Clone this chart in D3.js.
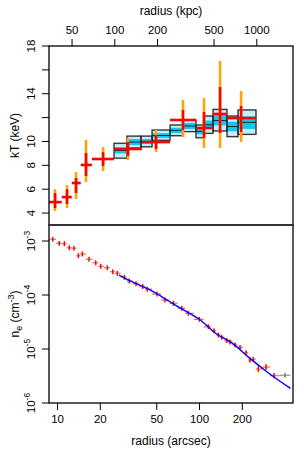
<!DOCTYPE html>
<html lang="en">
<head>
    <meta charset="UTF-8">
    <title>kT and n_e profiles</title>
    <script src="https://cdn.jsdelivr.net/npm/d3@7"></script>
    <style>
        body {margin: 0; background: #fff;}
        svg text {font-family: "Liberation Sans", Arial, sans-serif; fill: #000;}
    </style>
</head>
<body>
<div id="graf"></div>
<script>
    // projected temperature points (radius in arcsec, kT in keV)
    let ktR    = [9.68, 11.76, 13.61, 16.0, 21.1, 31.6, 49.8, 77.1, 108.4, 140.7, 197.8];
    let ktRlo  = [8.8, 10.8, 12.7, 14.7, 17.6, 25.2, 39.6, 62.5, 95.2, 125.5, 157.4];
    let ktRhi  = [10.8, 12.7, 14.7, 17.6, 25.2, 39.6, 62.5, 95.2, 125.5, 157.4, 251.9];
    let ktVal  = [4.92, 5.34, 6.52, 8.03, 8.53, 9.37, 9.95, 11.8, 11.13, 12.3, 11.96];
    let ktLo90 = [4.17, 4.42, 5.18, 6.6, 7.52, 8.44, 9.12, 10.37, 9.45, 9.45, 9.95];
    let ktHi90 = [6.01, 6.35, 7.44, 10.12, 9.53, 10.29, 10.96, 13.47, 13.64, 16.74, 14.23];
    let ktLo68 = [4.42, 4.76, 5.68, 7.1, 7.94, 8.78, 9.37, 10.96, 10.29, 10.71, 10.79];
    let ktHi68 = [5.68, 6.0, 6.94, 9.03, 9.1, 9.95, 10.54, 12.64, 12.47, 14.56, 12.97];

    // deprojected temperature shells (boxes)
    let shLo  = [25.2, 31.1, 39.0, 46.7, 62.5, 77.1, 95.2, 108.4, 125.5, 157.4, 188.2];
    let shHi  = [31.1, 39.0, 46.7, 62.5, 77.1, 95.2, 108.4, 125.5, 157.4, 188.2, 251.9];
    let shQ05 = [8.6, 9.45, 9.55, 10.1, 10.48, 10.82, 10.31, 10.68, 10.88, 10.4, 10.6];
    let shQ25 = [9.0, 9.7, 9.8, 10.3, 10.7, 11.05, 10.6, 11.05, 11.35, 10.85, 11.05];
    let shQ50 = [9.25, 9.95, 10.0, 10.5, 10.93, 11.3, 10.85, 11.4, 11.75, 11.25, 11.6];
    let shQ75 = [9.5, 10.2, 10.2, 10.7, 11.15, 11.55, 11.1, 11.75, 12.2, 11.65, 12.1];
    let shQ95 = [9.85, 10.45, 10.45, 10.96, 11.38, 11.8, 11.38, 12.13, 12.69, 12.13, 12.64];

    // electron density points
    let neR = [9.33, 10.38, 11.26, 12.21, 13.17, 14.13, 15.07, 16.80, 18.73, 20.31, 22.61, 24.68, 26.58,
        29.78, 32.28, 36.0, 40.13, 43.24, 50.6, 57.6, 65.9, 75.6, 84.1, 100.5, 116.3, 127.5, 136.8,
        144.5, 156.7, 165.3, 179.3, 194.4, 214.3, 228.6, 241.2, 261.6, 296.5, 337.4, 403.3];
    let neEdges = [8.86, 9.84, 10.81, 11.72, 12.69, 13.65, 14.59, 15.93, 17.76, 19.50, 21.42, 23.6, 25.6,
        28.1, 31.0, 34.1, 38.0, 41.7, 46.7, 54.0, 61.7, 70.6, 79.7, 91.9, 108.1, 121.9, 132.1, 140.6,
        150.5, 161.1, 172.2, 186.7, 204.2, 221.4, 235.0, 251.2, 278.6, 316.2, 369.0, 440.6];
    let neVal = [1.075e-3, 9.07e-4, 8.91e-4, 7.52e-4, 7.33e-4, 5.35e-4, 5.75e-4, 4.58e-4, 3.96e-4, 3.40e-4,
        3.20e-4, 2.70e-4, 2.52e-4, 2.13e-4, 1.82e-4, 1.62e-4, 1.43e-4, 1.28e-4, 1.04e-4, 8.08e-5, 7.02e-5,
        5.67e-5, 4.58e-5, 3.55e-5, 2.59e-5, 2.18e-5, 1.82e-5, 1.65e-5, 1.43e-5, 1.35e-5, 1.19e-5, 1.07e-5,
        8.53e-6, 6.25e-6, 6.44e-6, 4.27e-6, 4.64e-6, 3.21e-6, 3.26e-6];
    let neErrDex = [0.01, 0.01, 0.01, 0.01, 0.01, 0.012, 0.012, 0.012, 0.012, 0.012, 0.012, 0.012, 0.012,
        0.012, 0.012, 0.012, 0.015, 0.015, 0.015, 0.015, 0.015, 0.018, 0.018, 0.018, 0.02, 0.02, 0.022,
        0.025, 0.025, 0.025, 0.03, 0.03, 0.03, 0.04, 0.04, 0.07, 0.06, 0.05, 0.03];
    let neUsed = neR.map(function(d, i) { return i < neR.length - 1; });

    // density model curve
    let modelR  = [27.3, 32.7, 45.2, 62.4, 77.7, 100, 133, 170, 228.6, 300, 440];
    let modelNe = [2.34e-4, 1.82e-4, 1.24e-4, 7.5e-5, 5.3e-5, 3.6e-5, 1.9e-5, 1.3e-5, 6.7e-6, 3.8e-6, 1.87e-6];

    // axis ticks
    let arcsecTicks = [10, 20, 50, 100, 200];
    let kpcTicks = [50, 100, 200, 500, 1000];
    let kpcPerArcsec = 3.95;
    let ktTicks = [4, 6, 8, 10, 12, 14, 16, 18];
    let ktTickLabels = ["4", "6", "8", "10", "", "14", "", "18"];
    let neTicks = [1e-3, 1e-4, 1e-5, 1e-6];
    let neTickExp = ["-3", "-4", "-5", "-6"];

    let pLeft = 49, pRight = 293, pTop = 46, pMid = 225, pBottom = 403;

    let svg = d3.select("#graf")
        .append("svg")
        .attr("width", 304)
        .attr("height", 450);

    let x = d3.scaleLog().domain([8.78, 459]).range([pLeft, pRight]);
    let yT = d3.scaleLinear().domain([3, 18]).range([pMid, pTop]);
    let yN = d3.scaleLog().domain([1e-6, 1.98e-3]).range([pBottom, pMid]);

    svg.append("clipPath").attr("id", "clipT").append("rect")
        .attr("x", pLeft).attr("y", pTop).attr("width", pRight - pLeft).attr("height", pMid - pTop);
    svg.append("clipPath").attr("id", "clipN").append("rect")
        .attr("x", pLeft).attr("y", pMid).attr("width", pRight - pLeft).attr("height", pBottom - pMid);

    // ---- top panel: temperature ----
    let gT = svg.append("g").attr("clip-path", "url(#clipT)");

    let shells = shLo.map(function(d, i) {
        return {lo: d, hi: shHi[i], q05: shQ05[i], q25: shQ25[i], q50: shQ50[i], q75: shQ75[i], q95: shQ95[i]};
    });
    gT.selectAll("rect.outer").data(shells).enter().append("rect")
        .attr("class", "outer")
        .attr("x", function(d) { return x(d.lo); })
        .attr("width", function(d) { return x(d.hi) - x(d.lo); })
        .attr("y", function(d) { return yT(d.q95); })
        .attr("height", function(d) { return yT(d.q05) - yT(d.q95); })
        .attr("fill", "#c2effb")
        .attr("stroke", "#667")
        .attr("stroke-width", 1.8)
        .attr("stroke-opacity", 0.45);
    gT.selectAll("rect.inner").data(shells).enter().append("rect")
        .attr("class", "inner")
        .attr("x", function(d) { return x(d.lo); })
        .attr("width", function(d) { return x(d.hi) - x(d.lo); })
        .attr("y", function(d) { return yT(d.q75); })
        .attr("height", function(d) { return yT(d.q25) - yT(d.q75); })
        .attr("fill", "#12c8f2");
    gT.selectAll("rect.edge").data(shells).enter().append("rect")
        .attr("class", "edge")
        .attr("x", function(d) { return x(d.lo); })
        .attr("width", function(d) { return x(d.hi) - x(d.lo); })
        .attr("y", function(d) { return yT(d.q95); })
        .attr("height", function(d) { return yT(d.q05) - yT(d.q95); })
        .attr("fill", "none")
        .attr("stroke", "#111")
        .attr("stroke-width", 0.9);
    gT.selectAll("line.med").data(shells).enter().append("line")
        .attr("class", "med")
        .attr("x1", function(d) { return x(d.lo); })
        .attr("x2", function(d) { return x(d.hi); })
        .attr("y1", function(d) { return yT(d.q50); })
        .attr("y2", function(d) { return yT(d.q50); })
        .attr("stroke", "#111")
        .attr("stroke-width", 0.9);

    let ktPts = ktR.map(function(d, i) {
        return {r: d, rlo: ktRlo[i], rhi: ktRhi[i], v: ktVal[i],
            lo90: ktLo90[i], hi90: ktHi90[i], lo68: ktLo68[i], hi68: ktHi68[i]};
    });
    gT.selectAll("line.o90").data(ktPts).enter().append("line")
        .attr("class", "o90")
        .attr("x1", function(d) { return x(d.r); }).attr("x2", function(d) { return x(d.r); })
        .attr("y1", function(d) { return yT(d.lo90); }).attr("y2", function(d) { return yT(d.hi90); })
        .attr("stroke", "#ffa500").attr("stroke-width", 2.6);
    gT.selectAll("line.r68").data(ktPts).enter().append("line")
        .attr("class", "r68")
        .attr("x1", function(d) { return x(d.r); }).attr("x2", function(d) { return x(d.r); })
        .attr("y1", function(d) { return yT(d.lo68); }).attr("y2", function(d) { return yT(d.hi68); })
        .attr("stroke", "#ff0000").attr("stroke-width", 2.6);
    gT.selectAll("line.rh").data(ktPts).enter().append("line")
        .attr("class", "rh")
        .attr("x1", function(d) { return x(d.rlo); }).attr("x2", function(d) { return x(d.rhi); })
        .attr("y1", function(d) { return yT(d.v); }).attr("y2", function(d) { return yT(d.v); })
        .attr("stroke", "#ff0000").attr("stroke-width", 2.6);

    // ---- bottom panel: density ----
    let gN = svg.append("g").attr("clip-path", "url(#clipN)");

    let nePts = neR.map(function(d, i) {
        let f = Math.pow(10, neErrDex[i]);
        return {r: d, rlo: neEdges[i], rhi: neEdges[i + 1], v: neVal[i], lo: neVal[i] / f, hi: neVal[i] * f, used: neUsed[i]};
    });
    gN.selectAll("line.nh").data(nePts).enter().append("line")
        .attr("class", "nh")
        .attr("x1", function(d) { return x(d.rlo); }).attr("x2", function(d) { return x(d.rhi); })
        .attr("y1", function(d) { return yN(d.v); }).attr("y2", function(d) { return yN(d.v); })
        .attr("stroke", function(d) { return d.used ? "#ff5050" : "#888"; })
        .attr("stroke-opacity", 0.8)
        .attr("stroke-width", 1.4);
    gN.selectAll("line.nv").data(nePts).enter().append("line")
        .attr("class", "nv")
        .attr("x1", function(d) { return x(d.r); }).attr("x2", function(d) { return x(d.r); })
        .attr("y1", function(d) { return yN(d.lo); }).attr("y2", function(d) { return yN(d.hi); })
        .attr("stroke", function(d) { return d.used ? "#ffa500" : "#888"; })
        .attr("stroke-width", 1.4);
    gN.selectAll("line.nc").data(nePts).enter().append("line")
        .attr("class", "nc")
        .attr("x1", function(d) { return x(d.r); }).attr("x2", function(d) { return x(d.r); })
        .attr("y1", function(d) { return yN(d.v) - 2.5; }).attr("y2", function(d) { return yN(d.v) + 2.5; })
        .attr("stroke", function(d) { return d.used ? "#ff0000" : "#888"; })
        .attr("stroke-width", 1.4);

    let model = modelR.map(function(d, i) { return {r: d, n: modelNe[i]}; });
    gN.append("path")
        .datum(model)
        .attr("fill", "none")
        .attr("stroke", "#0000ff")
        .attr("stroke-width", 1.4)
        .attr("d", d3.line()
            .curve(d3.curveMonotoneX)
            .x(function(d) { return x(d.r); })
            .y(function(d) { return yN(d.n); }));

    // ---- frames ----
    svg.append("rect").attr("x", pLeft).attr("y", pTop).attr("width", pRight - pLeft).attr("height", pMid - pTop)
        .attr("fill", "none").attr("stroke", "#000").attr("stroke-width", 1.3);
    svg.append("rect").attr("x", pLeft).attr("y", pMid).attr("width", pRight - pLeft).attr("height", pBottom - pMid)
        .attr("fill", "none").attr("stroke", "#000").attr("stroke-width", 1.3);
    svg.append("line").attr("x1", pLeft).attr("x2", pRight).attr("y1", pMid).attr("y2", pMid)
        .attr("stroke", "#333").attr("stroke-width", 2.2);

    // ---- axes ----
    let axB = svg.append("g").attr("transform", "translate(0," + pBottom + ")")
        .call(d3.axisBottom(x).tickValues(arcsecTicks).tickFormat(d3.format("d")).tickSize(7).tickSizeOuter(0).tickPadding(5));
    axB.select(".domain").remove();
    axB.selectAll("text").attr("font-size", 11.5).attr("font-family", "Liberation Sans, Arial, sans-serif");

    let axTop = svg.append("g").attr("transform", "translate(0," + pTop + ")")
        .call(d3.axisTop(x).tickValues(kpcTicks.map(function(k) { return k / kpcPerArcsec; }))
            .tickFormat(function(d, i) { return kpcTicks[i]; }).tickSize(7).tickSizeOuter(0).tickPadding(5));
    axTop.select(".domain").remove();
    axTop.selectAll("text").attr("font-size", 11.5).attr("font-family", "Liberation Sans, Arial, sans-serif");

    // left axis, top panel (labels parallel to axis)
    let axL = svg.append("g");
    axL.selectAll("line").data(ktTicks).enter().append("line")
        .attr("x1", pLeft - 7).attr("x2", pLeft)
        .attr("y1", function(d) { return yT(d); }).attr("y2", function(d) { return yT(d); })
        .attr("stroke", "#000");
    axL.selectAll("text").data(ktTicks).enter().append("text")
        .attr("transform", function(d) { return "translate(" + (pLeft - 14) + "," + yT(d) + ") rotate(-90)"; })
        .attr("text-anchor", "middle")
        .attr("font-size", 11.5)
        .text(function(d, i) { return ktTickLabels[i]; });

    let axLN = svg.append("g");
    axLN.selectAll("line").data(neTicks).enter().append("line")
        .attr("x1", pLeft - 7).attr("x2", pLeft)
        .attr("y1", function(d) { return yN(d); }).attr("y2", function(d) { return yN(d); })
        .attr("stroke", "#000");
    let neLab = axLN.selectAll("text").data(neTicks).enter().append("text")
        .attr("transform", function(d) { return "translate(" + (pLeft - 14) + "," + yN(d) + ") rotate(-90)"; })
        .attr("text-anchor", "middle")
        .attr("font-size", 11.5);
    neLab.append("tspan").text("10");
    neLab.append("tspan").attr("dy", -5).attr("font-size", 8.5).text(function(d, i) { return neTickExp[i]; });

    // ---- axis titles ----
    svg.append("text").attr("x", (pLeft + pRight) / 2).attr("y", 15).attr("text-anchor", "middle")
        .attr("font-size", 12).text("radius (kpc)");
    svg.append("text").attr("x", (pLeft + pRight) / 2).attr("y", 445).attr("text-anchor", "middle")
        .attr("font-size", 12).text("radius (arcsec)");
    svg.append("text")
        .attr("transform", "translate(19," + (pTop + pMid) / 2 + ") rotate(-90)")
        .attr("text-anchor", "middle").attr("font-size", 12).text("kT (keV)");
    let neTitle = svg.append("text")
        .attr("transform", "translate(19," + (pMid + pBottom) / 2 + ") rotate(-90)")
        .attr("text-anchor", "middle").attr("font-size", 12);
    neTitle.append("tspan").text("n");
    neTitle.append("tspan").attr("dy", 3).attr("font-size", 9).text("e");
    neTitle.append("tspan").attr("dy", -3).text(" (cm");
    neTitle.append("tspan").attr("dy", -5).attr("font-size", 9).text("-3");
    neTitle.append("tspan").attr("dy", 5).text(")");
</script>
</body>
</html>
